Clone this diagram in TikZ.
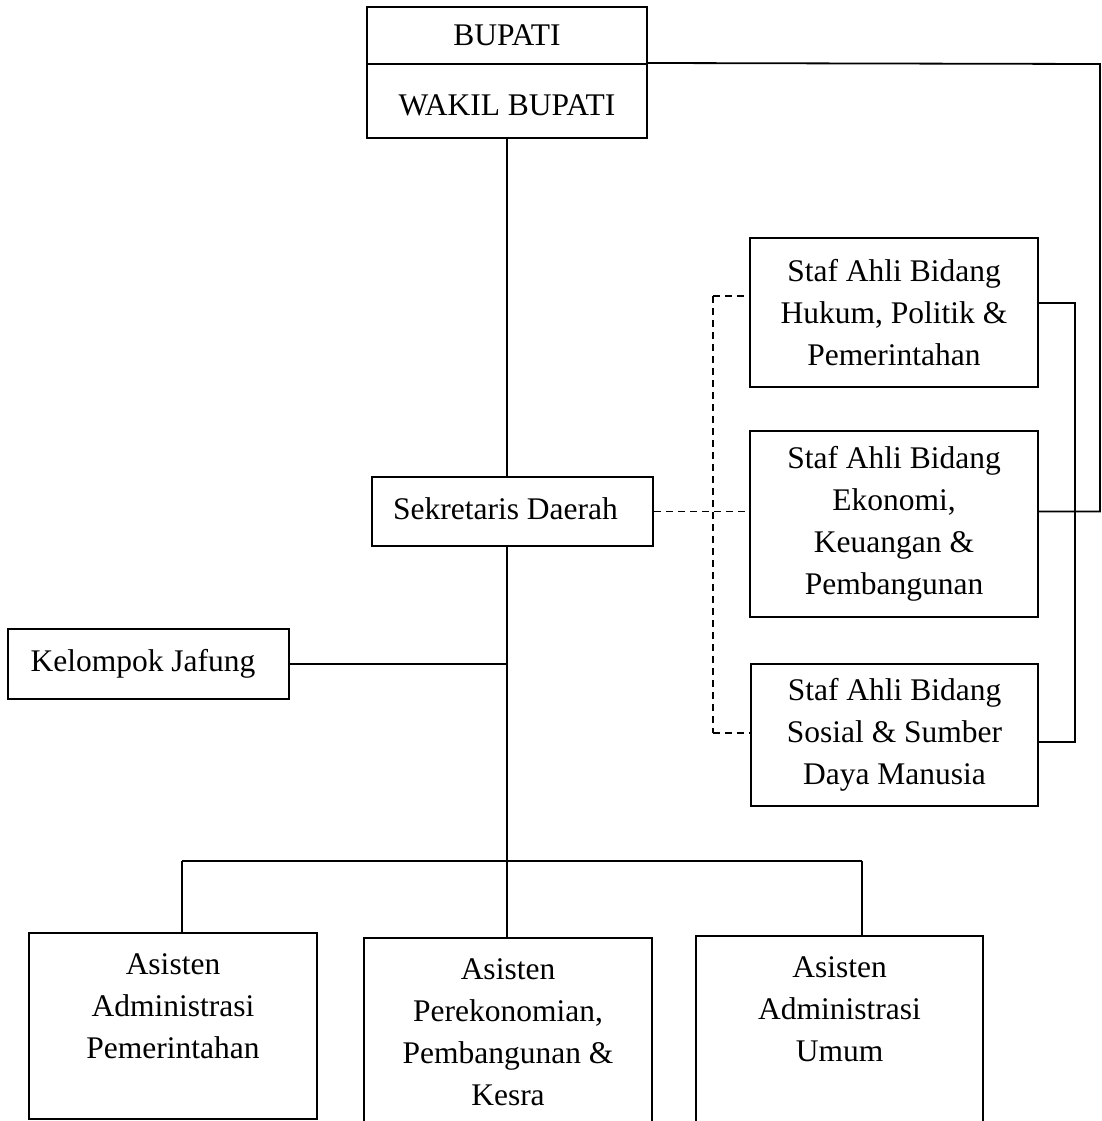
\documentclass[tikz,border=0pt]{standalone}
\usepackage{fontspec}
\setmainfont{Liberation Serif}
\begin{document}
\begin{tikzpicture}[x=1pt,y=-1pt,
  box/.style={draw,line width=2pt,rectangle,inner sep=0pt,align=center,
    font=\fontsize{31.5}{42}\selectfont},
  txt/.style={inner sep=0pt,align=center,font=\fontsize{31.5}{42}\selectfont},
  conn/.style={line width=1.8pt},
  dconn/.style={line width=1.6pt,dash pattern=on 7pt off 5pt}]
\useasboundingbox (0,0) rectangle (1102,1121);

% top
\node[box,minimum width=280pt,minimum height=57pt] (bupati) at (507,35.5) {BUPATI};
\node[box,minimum width=280pt,minimum height=74pt,text height=30pt] (wakil) at (507,101) {WAKIL BUPATI};

% sekda and jafung
\node[box,minimum width=281pt,minimum height=69pt,text depth=6pt] (sekda) at (512.5,511.5) {Sekretaris Daerah\hspace*{14pt}};
\node[box,minimum width=281pt,minimum height=70pt] (jafung) at (148.5,664) {Kelompok Jafung\hspace*{11pt}};

% staf ahli
\node[box,minimum width=288pt,minimum height=149pt] (staf1) at (894,312.5) {Staf Ahli Bidang\\Hukum, Politik \&\\Pemerintahan};
\node[box,minimum width=288pt,minimum height=186pt] (staf2) at (894,524) {Staf Ahli Bidang\\Ekonomi,\\Keuangan \&\\Pembangunan};
\node[box,minimum width=287pt,minimum height=142pt] (staf3) at (894.5,735) {Staf Ahli Bidang\\Sosial \& Sumber\\Daya Manusia};

% asisten boxes
\node[box,minimum width=288pt,minimum height=186pt] (as1) at (173,1026) {};
\node[box,minimum width=288pt,minimum height=202pt] (as2) at (508,1039) {};
\node[box,minimum width=287pt,minimum height=204pt] (as3) at (839.5,1038) {};
\node[txt,anchor=north] (as1t) at (173,953) {Asisten\\Administrasi\\Pemerintahan};
\node[txt,anchor=north] (as2t) at (508,958) {Asisten\\Perekonomian,\\Pembangunan \&\\Kesra};
\node[txt,anchor=north] (as3t) at (839.5,956) {Asisten\\Administrasi\\Umum};

% coordinates
\coordinate (bus) at (507,861);
\coordinate (busL) at (182,861);
\coordinate (busR) at (862,861);
\coordinate (rc) at (1100,64);
\coordinate (dt) at (713,296);
\coordinate (db) at (713,733);
\coordinate (s1r) at ([yshift=9.5pt]staf1.east);
\coordinate (s3r) at ([yshift=-7pt]staf3.east);
\coordinate (rb) at (1075,303);

% main trunk
\draw[conn] (wakil.south) -- (wakil.south |- sekda.north);
\draw[conn] (wakil.south |- sekda.south) -- (bus);
\draw[conn] (jafung.east) -- (jafung.east -| bus);
\draw[conn] (busL) -- (busR);
\draw[conn] (busL) -- (busL |- as1.north);
\draw[conn] (bus) -- (bus |- as2.north);
\draw[conn] (busR) -- (busR |- as3.north);

% right side
\draw[conn] (wakil.north east) -- (rc) -- (rc |- sekda.east) -- (staf2.east |- sekda.east);
\draw[conn] (s1r) -- (rb) -- (rb |- s3r) -- (s3r);

% dashed
\draw[dconn] (dt) -- (db);
\draw[dconn] (dt) -- (dt -| staf1.west);
\draw[dconn] (db) -- (db -| staf3.west);
\draw[dconn] (sekda.east) -- (sekda.east -| staf2.west);
\end{tikzpicture}
\end{document}
